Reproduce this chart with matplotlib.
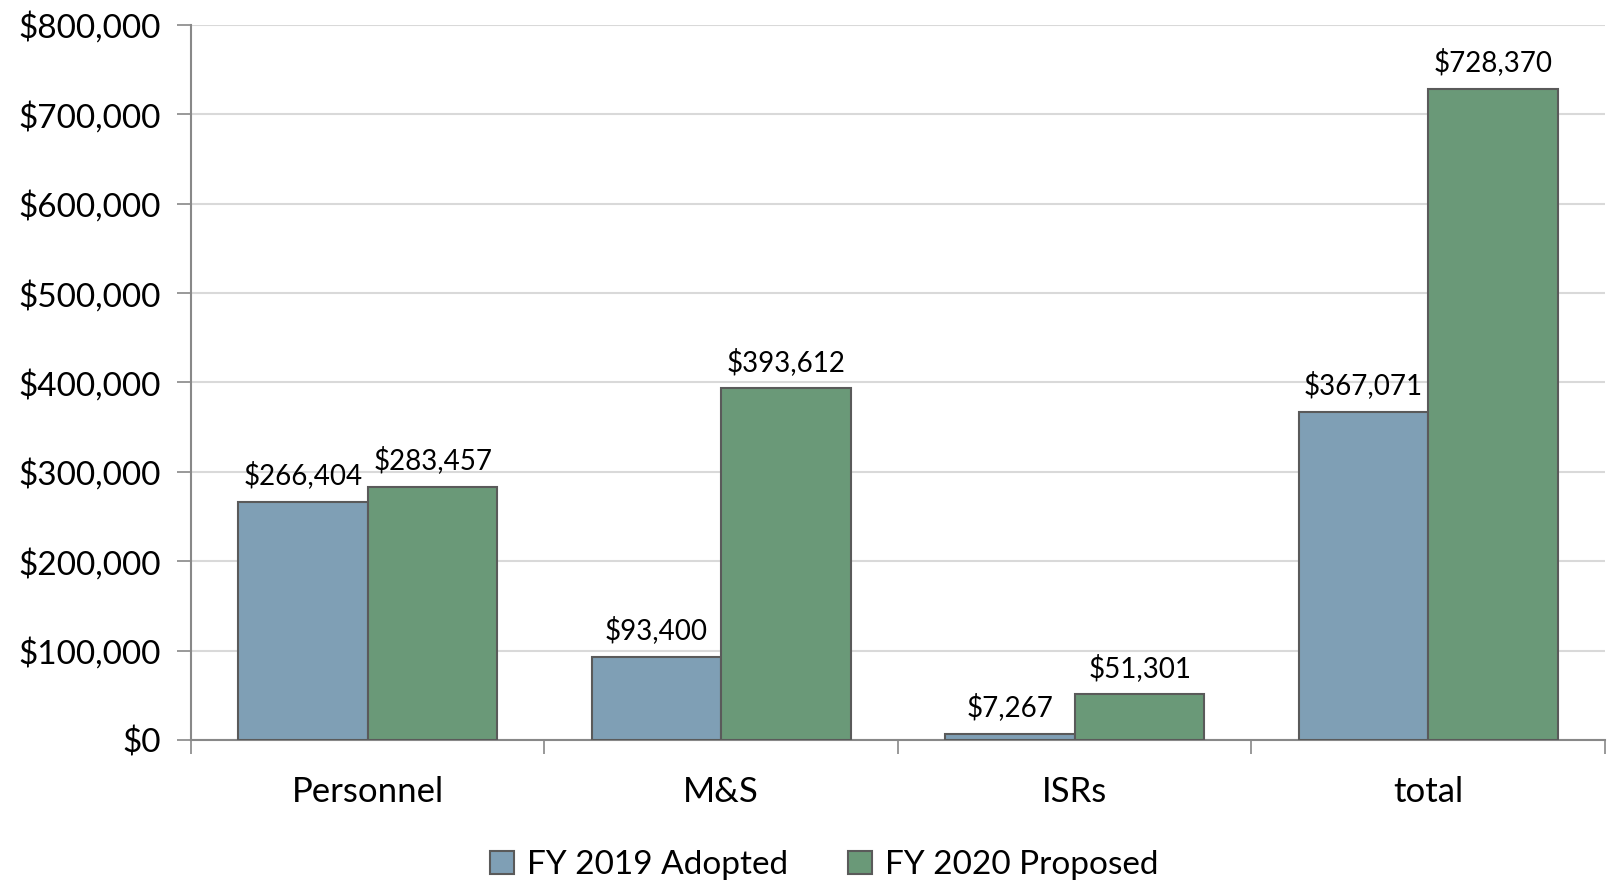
import matplotlib.pyplot as plt
import numpy as np
from matplotlib.ticker import FuncFormatter, FixedLocator

categories = ['Personnel', 'M&S', 'ISRs', 'total']
fy2019 = [266404, 93400, 7267, 367071]
fy2020 = [283457, 393612, 51301, 728370]
series_names = ['FY 2019 Adopted', 'FY 2020 Proposed']

plt.rcParams['font.family'] = ['Lato', 'DejaVu Sans']

fig = plt.figure(figsize=(16.08, 8.82), dpi=100)
ax = fig.add_axes([191 / 1608, 1 - 740 / 882, (1605 - 191) / 1608, (740 - 25) / 882])

x = np.arange(len(categories))
w = 0.367
blue = '#7F9FB5'
green = '#6A9978'
b1 = ax.bar(x - w / 2, fy2019, w, color=blue, edgecolor='#5a5a5a', linewidth=1.5, label=series_names[0], zorder=3)
b2 = ax.bar(x + w / 2, fy2020, w, color=green, edgecolor='#5a5a5a', linewidth=1.5, label=series_names[1], zorder=3)

for bars in (b1, b2):
    for r in bars:
        v = r.get_height()
        ax.annotate('${:,.0f}'.format(v), (r.get_x() + r.get_width() / 2, v),
                    xytext=(0, 9), textcoords='offset points', ha='center', va='bottom', fontsize=20)

ax.set_xlim(-0.5, len(categories) - 0.5)
ax.set_ylim(0, 800000)
ax.set_yticks(np.arange(0, 800001, 100000))
ax.yaxis.set_major_formatter(FuncFormatter(lambda v, p: '${:,.0f}'.format(v)))
ax.grid(axis='y', color='#d9d9d9', linewidth=1.5, zorder=0)

ax.set_xticks(x)
ax.set_xticklabels(categories, fontsize=25)
ax.xaxis.set_minor_locator(FixedLocator(np.arange(-0.5, len(categories), 1)))
ax.tick_params(axis='x', which='major', length=0, pad=26)
ax.tick_params(axis='x', which='minor', length=10, width=1.2, color='#888888')
ax.tick_params(axis='y', length=10, width=1.2, color='#888888', labelsize=24, pad=12)

for s in ['top', 'right']:
    ax.spines[s].set_visible(False)
for s in ['left', 'bottom']:
    ax.spines[s].set_color('#888888')
    ax.spines[s].set_linewidth(1.5)

ax.legend(loc='lower center', bbox_to_anchor=(0.448, -0.238), ncol=2, frameon=False,
          fontsize=24, handlelength=0.7, handleheight=0.7, handletextpad=0.4, columnspacing=1.8)

fig.savefig('out.png', dpi=100)
